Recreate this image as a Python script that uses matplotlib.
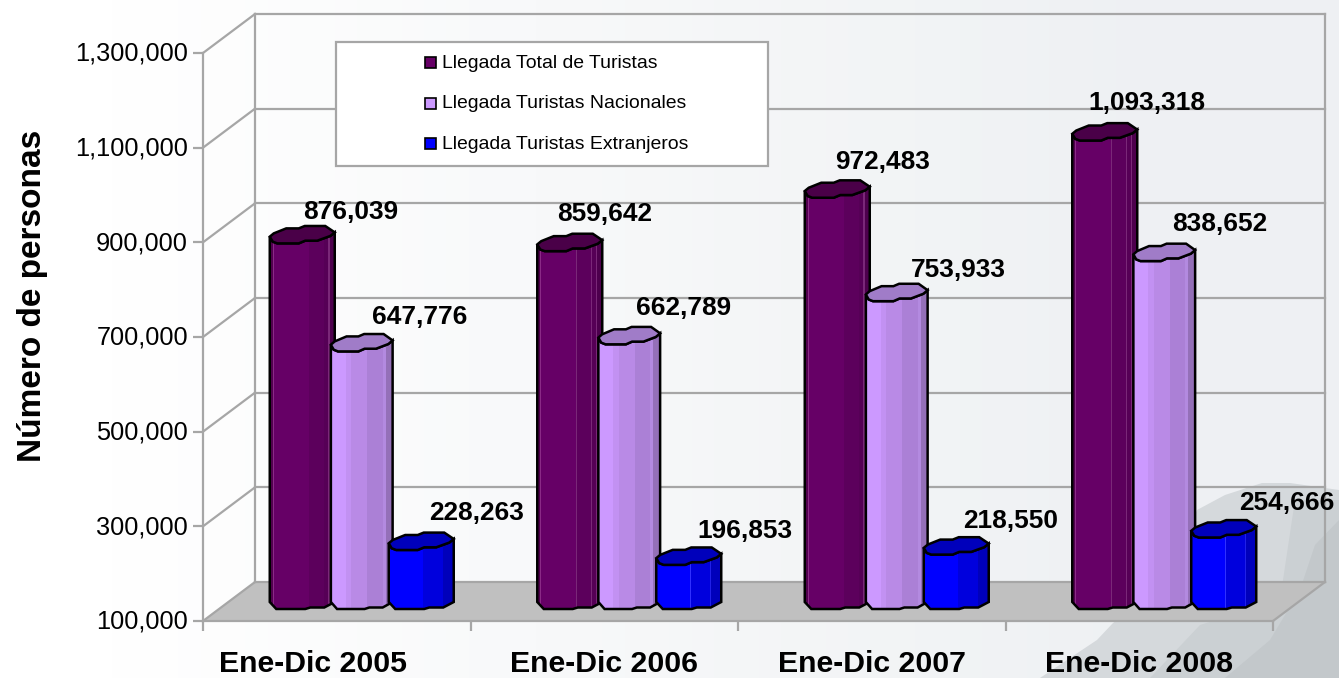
import numpy as np
import matplotlib
matplotlib.use("Agg")
import matplotlib.pyplot as plt
from matplotlib.patches import Polygon, Rectangle
from matplotlib.lines import Line2D
from matplotlib.path import Path
from matplotlib.transforms import Affine2D, IdentityTransform

plt.rcParams['font.family'] = ['Liberation Sans', 'DejaVu Sans']

#######################
#   DATA
#######################

periodos = ['Ene-Dic 2005', 'Ene-Dic 2006', 'Ene-Dic 2007', 'Ene-Dic 2008']
series = ['Llegada Total de Turistas', 'Llegada Turistas Nacionales', 'Llegada Turistas Extranjeros']
total = [876039, 859642, 972483, 1093318]
nacionales = [647776, 662789, 753933, 838652]
extranjeros = [228263, 196853, 218550, 254666]
y_ticks = [100000, 300000, 500000, 700000, 900000, 1100000, 1300000]

# label offsets from the bar top, in pixels
label_dx = [[48.75, 58.25, 55.75], [35.25, 54.75, 56.25], [45.75, 61.25, 54.75], [42.25, 55.75, 63.25]]
label_dy = [[22.2, 26.2, 27.8], [28.9, 28.1, 24.7], [27.5, 22, 24.4], [29.3, 27.9, 25.3]]

W, H = 1339, 678
GRID = '#a6a6a6'

# facets of the fake cylinders: start, end and colour, as share of the bar width
facetas = [
    [(0, .045, '#52004f'), (.045, .06, '#8a2a86'), (.06, .6, '#660066'), (.6, .61, '#7a2878'),
     (.61, .83, '#5c005c'), (.83, .84, '#7a2878'), (.84, .9, '#560056'), (.9, .92, '#7a2878'), (.92, 1, '#4d004d')],
    [(0, .24, '#cc99ff'), (.24, .33, '#c291f2'), (.33, .59, '#b98ae6'), (.59, .84, '#ab80d6'),
     (.84, .89, '#b38ae0'), (.89, 1, '#9470b8')],
    [(0, .52, '#0000ff'), (.52, .53, '#3030ff'), (.53, .83, '#0000dd'), (.83, .84, '#2020e8'), (.84, 1, '#0000bb')],
]
color_tapa = ['#4a0048', '#a07cc8', '#0000bb']
color_leyenda = ['#660066', '#cc99ff', '#0000ff']
escala_ancho = [1.0, 0.95, 1.0]

tapa = np.array([(-32.5, -2), (-28.5, 1.3), (-16, 6.3), (-3.5, 6.3), (2.5, 8.7), (23, 8.7), (32.5, 2.3),
                 (28, -1.3), (15, -6), (3, -6), (-3.5, -8.7), (-25, -8.7), (-29.5, -7)])
base = np.array([(32.5, 2.3), (32.5, 0), (22, -5.5), (8, -5.5), (3, -7), (-26, -7), (-32.5, 0)])


def frac(x, y):
    return x / W, 1 - y / H


#######################
#   FIGURE
#######################

fig = plt.figure(figsize=(W / 100, H / 100), dpi=100)

# background: pale gradient and the grey mountain of the slide
bg = fig.add_axes([0, 0, 1, 1], zorder=0)
bg.set_xlim(0, W)
bg.set_ylim(H, 0)
bg.axis('off')
xx, yy = np.meshgrid(np.linspace(0, 1, 60), np.linspace(0, 1, 30))
t = np.clip(xx * 1.3 - 0.1, 0, 1)
grad = np.dstack([1 - 0.065 * t, 1 - 0.055 * t, 1 - 0.047 * t])
bg.imshow(grad, extent=[0, W, H, 0], aspect='auto')
bg.add_patch(Polygon([(1040, 678), (1097, 640), (1113, 623), (1160, 590), (1197, 510), (1225, 495),
                      (1262, 483), (1290, 483), (1339, 490), (1339, 678)], fc='#d5d9dc', ec='none'))
bg.add_patch(Polygon([(1150, 678), (1200, 625), (1280, 600), (1295, 500), (1339, 500), (1339, 678)],
                     fc='#cbd0d3', ec='none'))
bg.add_patch(Polygon([(1225, 678), (1270, 640), (1300, 590), (1315, 545), (1339, 520), (1339, 678)],
                     fc='#c3c8cb', ec='none'))

ax = fig.add_axes([203 / W, 1 - 621 / H, (1273 - 203) / W, (621 - 53) / H], zorder=1)
ax.patch.set_alpha(0)
ax.set_xlim(0, 4)
ax.set_ylim(100000, 1300000)

back = ax.transData + Affine2D().translate(52, 39)
mid = ax.transData + Affine2D().translate(25, 19)
px = IdentityTransform()

# floor
floor = [ax.transData.transform((0, 100000)), ax.transData.transform((4, 100000)),
         back.transform((4, 100000)), back.transform((0, 100000))]
ax.add_patch(Polygon(floor, transform=px, fc='#c0c0c0', ec='none', zorder=1, clip_on=False))

# walls and grid
for v in y_ticks:
    ax.plot([0, 4], [v, v], transform=back, color=GRID, lw=1.6, clip_on=False, zorder=2, solid_capstyle='projecting')
    p0, p1 = ax.transData.transform((0, v)), back.transform((0, v))
    ax.add_line(Line2D([p0[0], p1[0]], [p0[1], p1[1]], transform=px, color=GRID, lw=1.6, clip_on=False, zorder=2))
ax.plot([0, 0], [100000, 1300000], transform=back, color=GRID, lw=1.6, clip_on=False, zorder=2)
ax.plot([4, 4], [100000, 1300000], transform=back, color=GRID, lw=1.6, clip_on=False, zorder=2)
p0, p1 = ax.transData.transform((4, 100000)), back.transform((4, 100000))
ax.add_line(Line2D([p0[0], p1[0]], [p0[1], p1[1]], transform=px, color=GRID, lw=1.6, clip_on=False, zorder=2))

# bars
valores = [total, nacionales, extranjeros]
paso = 0.2224
z = 3
for i in range(len(periodos)):
    for j, vals in enumerate(valores):
        x = i + 0.5 + (j - 1) * paso
        v = vals[i]
        top = mid.transform((x, v))
        bot = mid.transform((x, 100000))
        sx = escala_ancho[j]
        cuerpo = np.vstack([
            tapa[[0]] * [sx, 1] + top,
            tapa[[12, 11, 10, 9, 8, 7, 6]] * [sx, 1] + top,
            base * [sx, 1] + bot,
        ])
        ancho = 65 * sx
        izq = top[0] - ancho / 2
        for a, b, c in facetas[j]:
            r = Rectangle((izq + a * ancho, bot[1] - 12), (b - a) * ancho + 0.5, top[1] - bot[1] + 14,
                          transform=px, fc=c, ec='none', zorder=z)
            ax.add_patch(r)
            r.set_clip_path(Path(cuerpo), px)
        ax.add_patch(Polygon(cuerpo, transform=px, fc='none', ec='black', lw=1.8, zorder=z + .1, clip_on=False))
        ax.add_patch(Polygon(tapa * [sx, 1] + top, transform=px, fc=color_tapa[j], ec='black', lw=1.8,
                             zorder=z + .2, clip_on=False))
        ax.annotate(f'{v:,}', xy=(top[0], top[1]), xycoords='figure pixels',
                    xytext=(label_dx[i][j] * 0.72, label_dy[i][j] * 0.72), textcoords='offset points',
                    ha='center', va='center', fontsize=18.9, fontweight='bold', color='black', zorder=20,
                    annotation_clip=False)
        z += 1

# axes
for s in ['top', 'right']:
    ax.spines[s].set_visible(False)
for s in ['left', 'bottom']:
    ax.spines[s].set_color(GRID)
    ax.spines[s].set_linewidth(1.6)
    ax.spines[s].set_zorder(2.5)
ax.set_yticks(y_ticks)
ax.set_yticklabels([f'{v:,}' for v in y_ticks], fontsize=18.3, color='black')
ax.set_xticks(range(5))
ax.set_xticklabels([''] * 5)
ax.set_xticks([k + 0.5 for k in range(4)], minor=True)
ax.set_xticklabels(periodos, minor=True, fontsize=21.8, fontweight='bold')
ax.tick_params(axis='y', length=7, width=1.6, color=GRID, pad=3)
ax.tick_params(axis='x', which='major', length=7, width=1.6, color=GRID)
ax.tick_params(axis='x', which='minor', length=0, pad=20.6)

for lab in ax.get_yticklabels():
    lab.set_transform(lab.get_transform() + Affine2D().translate(-1, 1.5))
# the first category label sits left of its centre in the original
lab0 = ax.get_xticklabels(minor=True)[0]
lab0.set_transform(lab0.get_transform() + Affine2D().translate(-24, 0))

fig.text(*frac(33, 296), 'Número de personas', rotation=90, ha='center', va='center',
         fontsize=24, fontweight='bold')

# legend, drawn by hand because the box is much wider than its content
x0, y0 = frac(336, 166)
x1, y1 = frac(768, 42)
fig.add_artist(Rectangle((x0, y0), x1 - x0, y1 - y0, transform=fig.transFigure, fc='white', ec=GRID, lw=1.6, zorder=30))
for k, nombre in enumerate(series):
    yc = 62 + k * 40.7
    mx, my = frac(425, yc + 6)
    fig.add_artist(Rectangle((mx, my), 11 / W, 11 / H, transform=fig.transFigure, fc=color_leyenda[k],
                             ec='black', lw=1.2, zorder=31))
    tx, ty = frac(442, yc + 1)
    fig.text(tx, ty, nombre, ha='left', va='center', fontsize=13.95, color='black', zorder=31)

fig.savefig('out.png', dpi=100)
